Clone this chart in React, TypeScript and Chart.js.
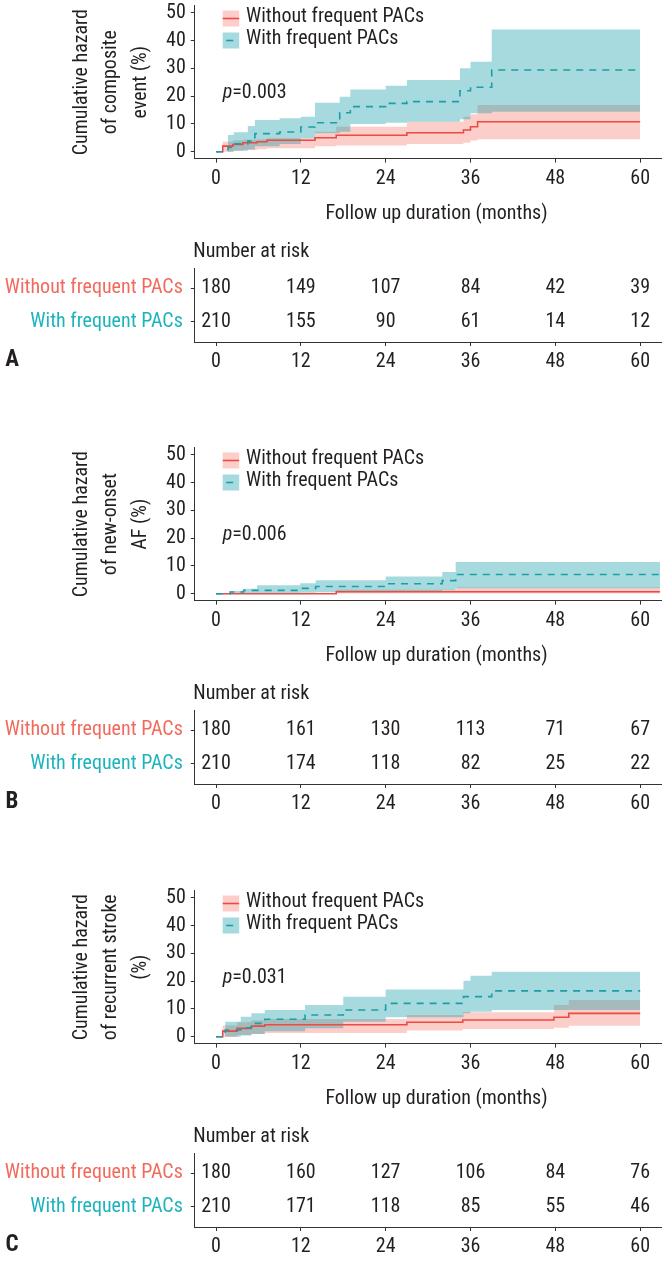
import React, { useEffect, useRef } from 'react';
import { Chart, registerables } from 'chart.js';

Chart.register(...registerables);

// ---------- data ----------
const groupLabels = ['Without frequent PACs', 'With frequent PACs'];
const xTickValues = [0, 12, 24, 36, 48, 60];
const yTickValues = [0, 10, 20, 30, 40, 50];
const riskTimes = [0, 12, 24, 36, 48, 60];

// Panel A: composite event
const aYTitle = ['Cumulative hazard', 'of composite', 'event (%)'];
const aPValue = '0.003';
const aWithoutTime = [0, 0.95, 2.4, 3.8, 5.8, 7.2, 14, 17, 27, 35, 36, 37, 60];
const aWithoutHazard = [0, 2.0, 2.6, 3.2, 3.6, 4.1, 5.0, 5.9, 6.8, 7.8, 9.0, 10.8, 10.8];
const aWithoutUpper = [0, 3.6, 4.0, 4.3, 4.5, 4.8, 7.2, 9.0, 10.8, 12.6, 13.5, 16.8, 16.8];
const aWithoutLower = [0, 0, 0.3, 0.6, 0.9, 1.2, 2.0, 2.2, 2.8, 3.2, 4.0, 4.5, 4.5];
const aWithTime = [0, 1.7, 2.5, 4.5, 5.5, 9, 12, 14, 17.5, 19, 24, 27, 34.5, 36, 39, 60];
const aWithHazard = [0, 1.5, 2.8, 3.8, 6.5, 7.1, 8.9, 10.4, 14.0, 16.2, 17.4, 18.0, 21.9, 23.2, 29.4, 29.4];
const aWithUpper = [0, 6.0, 7.0, 9.2, 11.4, 12.0, 12.6, 17.6, 19.8, 22.4, 23.7, 25.8, 30.0, 32.4, 44.0, 44.0];
const aWithLower = [0, 0, 0.3, 0.8, 2.0, 2.8, 4.8, 6.6, 7.2, 10.0, 10.4, 10.8, 11.7, 13.8, 14.4, 14.4];
const aRiskWithout = [180, 149, 107, 84, 42, 39];
const aRiskWith = [210, 155, 90, 61, 14, 12];

// Panel B: new-onset AF
const bYTitle = ['Cumulative hazard', 'of new-onset', 'AF (%)'];
const bPValue = '0.006';
const bWithoutTime = [0, 17, 34, 62.8];
const bWithoutHazard = [0, 0.7, 0.7, 0.7];
const bWithoutUpper = [0, 1.4, 2.2, 2.2];
const bWithoutLower = [0, 0.1, 0.1, 0.1];
const bWithTime = [0, 2, 3.9, 5.8, 11.9, 14.1, 24, 32, 33.9, 62.8];
const bWithHazard = [0, 0.6, 1.2, 1.2, 1.9, 2.6, 3.6, 4.7, 6.9, 6.9];
const bWithUpper = [0, 1.0, 1.8, 3.0, 3.8, 4.8, 6.2, 7.8, 11.4, 11.4];
const bWithLower = [0, 0, 0.1, 0.1, 0.3, 0.5, 0.8, 1.2, 2.0, 2.0];
const bRiskWithout = [180, 161, 130, 113, 71, 67];
const bRiskWith = [210, 174, 118, 82, 25, 22];

// Panel C: recurrent stroke
const cYTitle = ['Cumulative hazard', 'of recurrent stroke', '(%)'];
const cPValue = '0.031';
const cWithoutTime = [0, 0.95, 3, 5, 6.9, 27, 34.9, 47.8, 49.9, 60];
const cWithoutHazard = [0, 2.0, 3.0, 3.8, 4.3, 5.2, 6.0, 7.0, 8.4, 8.4];
const cWithoutUpper = [0, 4.0, 5.2, 5.8, 6.4, 7.8, 8.8, 11.4, 13.2, 13.2];
const cWithoutLower = [0, 0, 0.6, 1.0, 1.3, 2.2, 2.8, 3.2, 3.9, 3.9];
const cWithTime = [0, 1.3, 3.5, 5, 6.9, 12.6, 18, 24, 35, 36, 39, 60];
const cWithHazard = [0, 2.4, 3.2, 4.8, 6.3, 7.8, 9.6, 12.0, 14.4, 14.4, 16.5, 16.5];
const cWithUpper = [0, 5.4, 7.2, 8.4, 9.6, 11.4, 14.4, 17.0, 20.1, 21.9, 23.4, 23.4];
const cWithLower = [0, 0, 0.4, 1.0, 2.0, 3.0, 5.4, 7.0, 8.4, 9.0, 9.6, 9.6];
const cRiskWithout = [180, 160, 127, 106, 84, 76];
const cRiskWith = [210, 171, 118, 85, 55, 46];

// ---------- style ----------
const FONT = "'Liberation Sans Narrow', 'Arial Narrow', 'Roboto Condensed', 'DejaVu Sans Condensed', 'Liberation Sans', sans-serif";
const FS = 20;
const TEXT = '#231f20';
const AXIS = '#333333';
const RED_LINE = '#eb4b42';
const TEAL_LINE = '#1a9ea8';
const RED_LABEL = '#f26a5d';
const TEAL_LABEL = '#1db3bd';
const PINK_BAND = 'rgba(248,118,109,0.36)';
const TEAL_BAND = 'rgba(0,150,160,0.35)';

const W = 666;
const PLOT_H = 232;
const AREA_LEFT = 194.8;
const AREA_RIGHT = 661.4;
const AREA_TOP = 5.75;
const AREA_BOTTOM = 158.65;
const TABLE_TOP = 236;
const TABLE_H = 140;
const TABLE_AREA_TOP = 32;
const TABLE_AREA_BOTTOM = 106;
const PANEL_TOPS = [0, 442.3, 885];

type Spec = {
  letter: string;
  yTitle: string[];
  p: string;
  woT: number[]; woH: number[]; woU: number[]; woL: number[];
  wT: number[]; wH: number[]; wU: number[]; wL: number[];
  riskWo: number[]; riskW: number[];
};

const specs: Spec[] = [
  { letter: 'A', yTitle: aYTitle, p: aPValue,
    woT: aWithoutTime, woH: aWithoutHazard, woU: aWithoutUpper, woL: aWithoutLower,
    wT: aWithTime, wH: aWithHazard, wU: aWithUpper, wL: aWithLower,
    riskWo: aRiskWithout, riskW: aRiskWith },
  { letter: 'B', yTitle: bYTitle, p: bPValue,
    woT: bWithoutTime, woH: bWithoutHazard, woU: bWithoutUpper, woL: bWithoutLower,
    wT: bWithTime, wH: bWithHazard, wU: bWithUpper, wL: bWithLower,
    riskWo: bRiskWithout, riskW: bRiskWith },
  { letter: 'C', yTitle: cYTitle, p: cPValue,
    woT: cWithoutTime, woH: cWithoutHazard, woU: cWithoutUpper, woL: cWithoutLower,
    wT: cWithTime, wH: cWithHazard, wU: cWithUpper, wL: cWithLower,
    riskWo: cRiskWithout, riskW: cRiskWith },
];

const pts = (t: number[], v: number[]) => t.map((x, i) => ({ x, y: v[i] }));

const font = (size = FS, weight: any = 'normal', style: any = 'normal') => ({ family: FONT, size, weight, style, lineHeight: 1.2 });

const xScale = (height: number) => ({
  type: 'linear',
  min: -3,
  max: 63,
  afterBuildTicks: (s: any) => { s.ticks = xTickValues.map((v) => ({ value: v })); },
  afterFit: (s: any) => { s.height = height; s.paddingLeft = 0; s.paddingRight = 0; },
  ticks: { font: font(), color: TEXT, padding: 4, maxRotation: 0, autoSkip: false },
  grid: { drawOnChartArea: false, drawTicks: true, tickLength: 4, color: AXIS, lineWidth: 1 },
  border: { display: true, color: AXIS, width: 1 },
});

function bandSet(t: number[], v: number[], color: string, fill: any, order: number) {
  return {
    data: pts(t, v), stepped: true, borderColor: 'rgba(0,0,0,0)', borderWidth: 0,
    pointRadius: 0, pointHoverRadius: 0, pointHitRadius: 0, fill, backgroundColor: color, order,
  };
}

function plotPlugin(spec: Spec) {
  return {
    id: 'plotText' + spec.letter,
    afterDraw(chart: any) {
      const ctx = chart.ctx;
      ctx.save();
      // legend
      const rows = [
        { y: 10.5, fill: PINK_BAND, line: RED_LINE, x0: 0, x1: 16.5, label: groupLabels[0] },
        { y: 32.5, fill: TEAL_BAND, line: TEAL_LINE, x0: 3.5, x1: 10.5, label: groupLabels[1] },
      ];
      const bx = 222.7, bw = 16.5, bh = 16;
      rows.forEach((r) => {
        ctx.fillStyle = r.fill;
        ctx.fillRect(bx, r.y, bw, bh);
        ctx.strokeStyle = r.line;
        ctx.lineWidth = 1.6;
        ctx.beginPath();
        ctx.moveTo(bx + r.x0, r.y + bh / 2);
        ctx.lineTo(bx + r.x1, r.y + bh / 2);
        ctx.stroke();
        ctx.fillStyle = TEXT;
        ctx.font = `${FS}px ${FONT}`;
        ctx.textAlign = 'left';
        ctx.textBaseline = 'middle';
        ctx.fillText(r.label, 246, r.y + bh / 2 - 1.5);
      });
      // p value
      ctx.font = `italic ${FS}px ${FONT}`;
      ctx.textAlign = 'left';
      ctx.textBaseline = 'middle';
      ctx.fillText('p', 222.7, 93);
      const pw = ctx.measureText('p').width;
      ctx.font = `${FS}px ${FONT}`;
      ctx.fillText('=' + spec.p, 222.7 + pw, 93);
      // x title
      ctx.textAlign = 'center';
      ctx.fillText('Follow up duration (months)', 436.5, 214);
      ctx.restore();
    },
  };
}

function buildPlotConfig(spec: Spec): any {
  return {
    type: 'line',
    data: {
      datasets: [
        bandSet(spec.woT, spec.woU, PINK_BAND, 1, 4),
        bandSet(spec.woT, spec.woL, PINK_BAND, false, 4),
        bandSet(spec.wT, spec.wU, TEAL_BAND, 3, 3),
        bandSet(spec.wT, spec.wL, TEAL_BAND, false, 3),
        { data: pts(spec.woT, spec.woH), stepped: true, borderColor: RED_LINE, borderWidth: 1.6,
          pointRadius: 0, pointHoverRadius: 0, fill: false, order: 2 },
        { data: pts(spec.wT, spec.wH), stepped: true, borderColor: TEAL_LINE, borderWidth: 1.6,
          borderDash: [7, 6], pointRadius: 0, pointHoverRadius: 0, fill: false, order: 1 },
      ],
    },
    options: {
      responsive: false,
      animation: false,
      events: [],
      layout: { padding: { left: 0, top: AREA_TOP, right: W - AREA_RIGHT, bottom: 0 }, autoPadding: false },
      plugins: { legend: { display: false }, tooltip: { enabled: false } },
      scales: {
        x: xScale(PLOT_H - AREA_BOTTOM),
        y: {
          type: 'linear',
          min: -2.5,
          max: 52.5,
          afterBuildTicks: (s: any) => { s.ticks = yTickValues.map((v) => ({ value: v })); },
          afterFit: (s: any) => { s.width = AREA_LEFT; s.paddingTop = 0; s.paddingBottom = 0; },
          ticks: { font: font(), color: TEXT, padding: 5 },
          grid: { drawOnChartArea: false, drawTicks: true, tickLength: 4, color: AXIS, lineWidth: 1 },
          border: { display: true, color: AXIS, width: 1 },
          title: {
            display: true, text: spec.yTitle, color: TEXT,
            font: { family: FONT, size: FS, lineHeight: 1.46 },
            padding: { top: 67.5, bottom: 0 },
          },
        },
      },
    },
    plugins: [plotPlugin(spec)],
  };
}

function tablePlugin(spec: Spec) {
  return {
    id: 'tableText' + spec.letter,
    afterDatasetsDraw(chart: any) {
      const ctx = chart.ctx;
      ctx.save();
      ctx.fillStyle = TEXT;
      ctx.font = `${FS}px ${FONT}`;
      ctx.textAlign = 'center';
      ctx.textBaseline = 'middle';
      chart.data.datasets.forEach((ds: any, i: number) => {
        const meta = chart.getDatasetMeta(i);
        meta.data.forEach((el: any, j: number) => {
          ctx.fillText(String(ds.counts[j]), el.x, el.y);
        });
      });
      ctx.textAlign = 'left';
      ctx.fillText('Number at risk', 193.3, 15.7);
      ctx.font = `bold 23px ${FONT}`;
      ctx.textAlign = 'center';
      ctx.fillText(spec.letter, 12, 124);
      ctx.restore();
    },
  };
}

function buildTableConfig(spec: Spec): any {
  return {
    type: 'scatter',
    data: {
      datasets: [
        { data: riskTimes.map((t) => ({ x: t, y: 1 })), counts: spec.riskWo, pointRadius: 0, pointHoverRadius: 0, showLine: false },
        { data: riskTimes.map((t) => ({ x: t, y: 2 })), counts: spec.riskW, pointRadius: 0, pointHoverRadius: 0, showLine: false },
      ],
    },
    options: {
      responsive: false,
      animation: false,
      events: [],
      layout: { padding: { left: 0, top: TABLE_AREA_TOP, right: W - AREA_RIGHT, bottom: 0 }, autoPadding: false },
      plugins: { legend: { display: false }, tooltip: { enabled: false } },
      scales: {
        x: xScale(TABLE_H - TABLE_AREA_BOTTOM),
        y: {
          type: 'linear',
          min: 0.4,
          max: 2.6,
          reverse: true,
          afterBuildTicks: (s: any) => { s.ticks = [1, 2].map((v) => ({ value: v })); },
          afterFit: (s: any) => { s.width = AREA_LEFT; s.paddingTop = 0; s.paddingBottom = 0; },
          ticks: {
            font: font(),
            color: (c: any) => (c.index === 0 ? RED_LABEL : TEAL_LABEL),
            padding: 8,
            callback: (_v: any, i: number) => groupLabels[i],
          },
          grid: { drawOnChartArea: false, drawTicks: true, tickLength: 4, color: AXIS, lineWidth: 1 },
          border: { display: true, color: AXIS, width: 1 },
        },
      },
    },
    plugins: [tablePlugin(spec)],
  };
}

function ChartCanvas({ config, top, height }: { config: () => any; top: number; height: number }) {
  const ref = useRef<HTMLCanvasElement | null>(null);
  useEffect(() => {
    const chart = new Chart(ref.current as HTMLCanvasElement, config());
    return () => chart.destroy();
  }, []);
  return (
    <canvas
      ref={ref}
      width={W}
      height={height}
      style={{ position: 'absolute', left: 0, top, width: W, height, display: 'block' }}
    />
  );
}

export default function App() {
  return (
    <div style={{ position: 'absolute', left: 0, top: 0, width: W, height: 1261, background: '#ffffff', overflow: 'hidden' }}>
      {specs.map((spec, i) => (
        <React.Fragment key={spec.letter}>
          <ChartCanvas config={() => buildPlotConfig(spec)} top={PANEL_TOPS[i]} height={PLOT_H} />
          <ChartCanvas config={() => buildTableConfig(spec)} top={PANEL_TOPS[i] + TABLE_TOP} height={TABLE_H} />
        </React.Fragment>
      ))}
    </div>
  );
}
